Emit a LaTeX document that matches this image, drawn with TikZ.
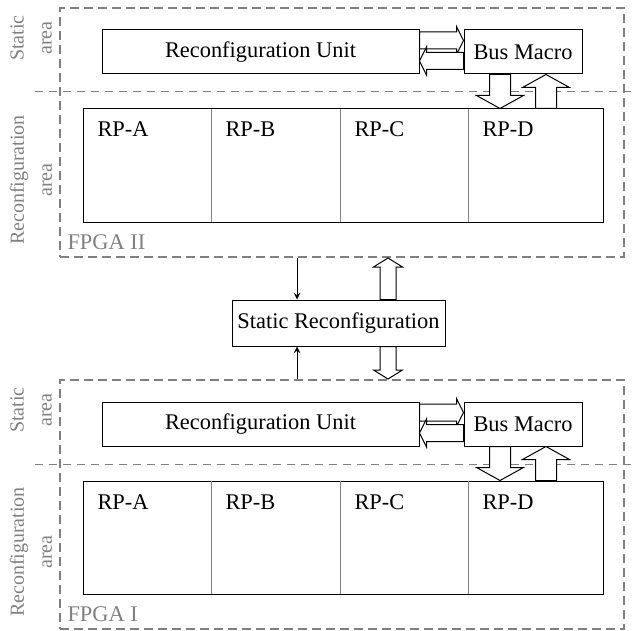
\documentclass[tikz,border=0pt]{standalone}
\usepackage{fontspec}
\setmainfont{Liberation Serif}
\usetikzlibrary{calc}

\begin{document}
\begin{tikzpicture}[x=0.5pt, y=-0.5pt, line width=0.5pt, >=stealth, font=\fontsize{11.2}{13}\selectfont]
	\tikzset{box/.style={draw, inner sep=0pt},
		fpgabox/.style={draw=gray, line width=1pt, dash pattern=on 4.5pt off 2.5pt, minimum width=282pt, minimum height=124.5pt},
		divline/.style={gray, dash pattern=on 4pt off 3pt},
		side/.style={gray, rotate=90, align=center, font=\fontsize{10}{14}\selectfont},
		rplabel/.style={anchor=base west, inner sep=0pt},
		barrow/.style n args={3}{draw, fill=white, to path={
				-- ($(\tikztostart)!#1!90:(\tikztotarget)$)
				-- ($(\tikztotarget)!#3!(\tikztostart)!#1!-90:(\tikztostart)$)
				-- ($(\tikztotarget)!#3!(\tikztostart)!#2!-90:(\tikztostart)$)
				-- (\tikztotarget)
				-- ($(\tikztotarget)!#3!(\tikztostart)!#2!90:(\tikztostart)$)
				-- ($(\tikztotarget)!#3!(\tikztostart)!#1!90:(\tikztostart)$)
				-- ($(\tikztostart)!#1!-90:(\tikztotarget)$)
				-- cycle}}}
	\useasboundingbox (0,0) rectangle (637,631);
	% the two FPGAs
	\foreach \yo/\n/\lab in {0/b/FPGA II, 372/a/FPGA I} {
		\node[fpgabox] (fpga\n) at (342,132.5+\yo) {};
		\draw[divline] (35,92+\yo) -- (637,92+\yo);
		\node[side] (st\n) at (31,38+\yo) {Static\\area};
		\node[side] (rc\n) at (31,180+\yo) {Reconfiguration\\area};
		\node[anchor=base west, gray, inner sep=0pt] (name\n) at (67,249+\yo) {\lab};
		\node[box, minimum width=158.5pt, minimum height=22pt] (ru\n) at (260.5,52+\yo) {Reconfiguration Unit};
		\node[box, minimum width=59pt, minimum height=22pt] (bm\n) at (523,52+\yo) {Bus Macro};
		\node[box, minimum width=260pt, minimum height=56.5pt] (rp\n) at (343,165.5+\yo) {};
		\foreach \p/\xa in {A/83, B/211, C/340, D/468} {
			\node[rplabel] (l\p\n) at (\xa+14,137+\yo) {RP-\p};
		}
		\foreach \xa in {211, 340, 468}
			\draw[gray] (\xa,109+\yo) -- (\xa,222+\yo);
		% bus macro links
		\coordinate (ho\n) at ([yshift=5.75pt]ru\n.east);
		\coordinate (hi\n) at ([yshift=5.75pt]bm\n.west);
		\coordinate (bo\n) at ([yshift=-4.5pt]bm\n.west);
		\coordinate (bi\n) at ([yshift=-4.5pt]ru\n.east);
		\coordinate (do\n) at ([xshift=-11.5pt]bm\n.south);
		\coordinate (di\n) at (do\n |- rp\n.north);
		\coordinate (ui\n) at ([xshift=11.5pt]bm\n.south);
		\coordinate (uo\n) at (ui\n |- rp\n.north);
		\draw[barrow={4.25pt}{7pt}{3.5pt}] (ho\n) to (hi\n);
		\draw[barrow={4.25pt}{7pt}{3.5pt}] (bo\n) to (bi\n);
		\draw[barrow={5.25pt}{11.75pt}{6.5pt}] (do\n) to (di\n);
		\draw[barrow={5.25pt}{11.75pt}{6.5pt}] (uo\n) to (ui\n);
	}
	% static reconfiguration
	\node[box, minimum width=106.5pt, minimum height=23pt] (sr) at (338.5,323) {Static Reconfiguration};
	\coordinate (t1) at ([xshift=-20.75pt]sr.north);
	\coordinate (t0) at (t1 |- fpgab.south);
	\coordinate (t2) at ([xshift=-20.75pt]sr.south);
	\coordinate (t3) at (t2 |- fpgaa.north);
	\coordinate (k0) at ([xshift=24.75pt]sr.north);
	\coordinate (k1) at (k0 |- fpgab.south);
	\coordinate (k2) at ([xshift=24.75pt]sr.south);
	\coordinate (k3) at (k2 |- fpgaa.north);
	\draw[->] (t0) -- (t1);
	\draw[->] (t3) -- (t2);
	\draw[barrow={4pt}{7.25pt}{4.5pt}] (k0) to (k1);
	\draw[barrow={4pt}{7.25pt}{4.5pt}] (k2) to (k3);
\end{tikzpicture}
\end{document}
